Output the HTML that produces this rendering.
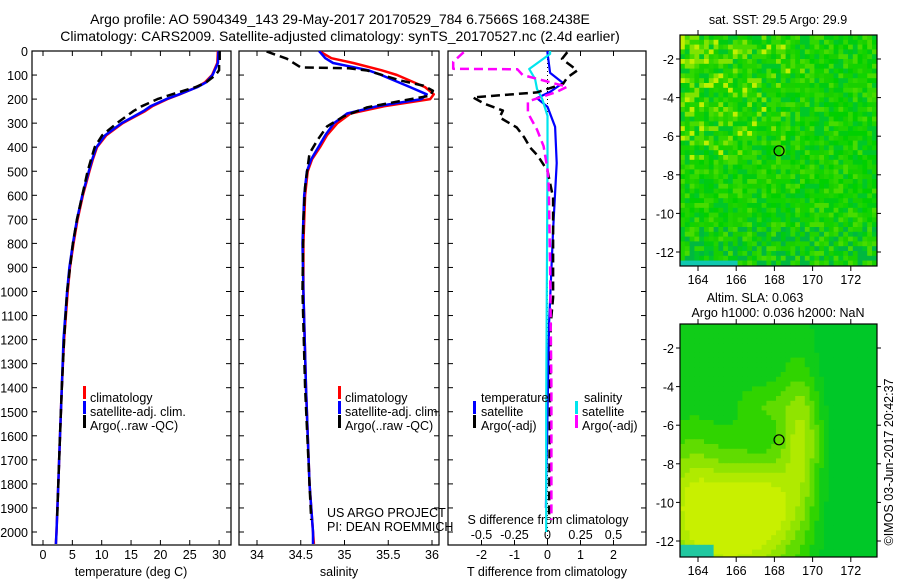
<!DOCTYPE html>
<html><head><meta charset="utf-8"><style>
html,body{margin:0;padding:0;background:#fff;}
svg{display:block;font-family:"Liberation Sans",sans-serif;}
text{fill:#000;font-size:12.5px;}
</style></head><body>
<svg id="c" width="900" height="580" viewBox="0 0 900 580">
<text x="340" y="24" text-anchor="middle" style="font-size:14px">Argo profile: AO 5904349_143 29-May-2017 20170529_784 6.7566S 168.2438E</text>
<text x="340" y="41" text-anchor="middle" style="font-size:14px">Climatology: CARS2009. Satellite-adjusted climatology: synTS_20170527.nc (2.4d earlier)</text>
<g id="g"></g>
</svg>
<script>
// ---------- data ----------
const depthTicks=[0,100,200,300,400,500,600,700,800,900,1000,1100,1200,1300,1400,1500,1600,1700,1800,1900,2000];
const tempTicks=[0,5,10,15,20,25,30];
const salTicks=[34,34.5,35,35.5,36];
const tdiffTicks=[-2,-1,0,1,2];
const sdiffTicks=[-0.5,-0.25,0,0.25,0.5];

const tClimDepth=[0,50,100,130,150,180,200,230,250,300,350,400,450,500,600,700,800,900,1000,1200,1400,1600,1800,2000,2050];
const tClim=[29.8,29.7,28.8,27.6,26.2,23.3,21.2,18.6,17.4,13.6,10.8,9.2,8.5,7.9,6.8,5.9,5.2,4.6,4.2,3.6,3.2,2.9,2.6,2.3,2.2];
const tSat=[29.9,29.8,28.9,27.8,26.3,23.2,21.0,18.3,17.1,13.4,10.6,9.1,8.4,7.8,6.7,5.8,5.1,4.5,4.1,3.5,3.2,2.9,2.6,2.3,2.2];
const tArgoDepth=[0,40,60,80,100,130,150,180,200,230,250,300,350,400,450,500,600,700,800,1000,1200,1400,1600,1800,1950];
const tArgo=[30.1,30.1,30.0,30.0,29.4,27.8,26.0,22.0,19.5,16.8,15.4,12.6,10.1,8.8,8.2,7.6,6.7,5.8,5.1,4.1,3.6,3.2,2.9,2.6,2.4];

const sClimDepth=[0,30,50,80,100,150,180,200,230,260,300,350,400,450,500,600,800,1000,1400,1800,2000,2050];
const sClim=[34.71,34.85,35.1,35.42,35.6,35.92,36.02,35.98,35.45,35.07,34.92,34.8,34.72,34.63,34.58,34.55,34.53,34.53,34.56,34.6,34.64,34.65];
const sSat=[34.71,34.78,34.87,35.27,35.42,35.75,35.94,35.88,35.37,35.03,34.88,34.78,34.7,34.62,34.57,34.54,34.52,34.53,34.56,34.6,34.64,34.64];
const sArgoDepth=[2,18,32,68,72,81,122,144,165,186,206,234,272,314,371,426,481,565,700,1000,1400,1800,1950];
const sArgo=[34.11,34.23,34.34,34.5,35.05,35.26,35.63,35.9,36.01,35.98,35.67,35.26,34.99,34.8,34.69,34.6,34.58,34.55,34.53,34.52,34.55,34.6,34.62];

const dtSatDepth=[0,8,91,133,170,196,232,315,466,744,1131,1500,1900];
const dtSat=[0,0,0.08,0.47,0.08,-0.32,0,0.23,0.28,0.17,0.05,0.0,-0.05];
const dsSatDepth=[0,12,75,117,158,200,270,466,1000,1500,2000];
const dsSat=[0.02,0.02,-0.14,-0.095,-0.08,-0.04,0,0,-0.005,-0.01,-0.01];
const dtArgoDepth=[5,33,60,81,110,137,172,193,220,248,276,318,360,401,436,498,609,886,1025,1131,1400,1700,1950];
const dtArgo=[0.6,0.44,0.7,0.9,0.6,0.47,-0.32,-2.26,-1.9,-1.35,-1.45,-0.93,-0.7,-0.53,-0.29,0,0.17,0.17,0.17,0.1,0.08,0.06,0.05];
const dsArgoDepth=[5,45,74,76,100,149,170,210,258,327,396,493,563,900,1400,1950];
const dsArgo=[-0.64,-0.72,-0.72,-0.23,-0.19,0.15,0.07,-0.15,-0.15,-0.08,-0.03,0,0.01,0.02,0.03,0.03];

const mapLonTicks=[164,166,168,170,172];
const mapLatTicks=[-2,-4,-6,-8,-10,-12];
const argoLon=[168.2438];
const argoLat=[-6.7566];

// ---------- helpers ----------
const NS="http://www.w3.org/2000/svg";
const G=document.getElementById('g');
function el(tag,attrs,parent){const e=document.createElementNS(NS,tag);for(const k in attrs)e.setAttribute(k,attrs[k]);(parent||G).appendChild(e);return e;}
const yD=d=>51+0.2405*d;
const xT=t=>43+5.87*t;
const xS=s=>257+87.5*(s-34);
const xDT=v=>547.5+33*v;
const xDS=v=>547.5+131*v;
const P1={x0:32,x1:231},P2={x0:239,x1:439},P3={x0:448,x1:646};
const TOP=51,BOT=545;

function panel(p,name){
  const r=el('rect',{x:p.x0,y:TOP,width:p.x1-p.x0,height:BOT-TOP,fill:'none',stroke:'#000','stroke-width':1.2});
  
  
  depthTicks.forEach(d=>{
    el('line',{x1:p.x0,x2:p.x0+5,y1:yD(d),y2:yD(d),stroke:'#000'});
    el('line',{x1:p.x1,x2:p.x1-5,y1:yD(d),y2:yD(d),stroke:'#000'});
  });
}
function xticks(p,ticks,fx,labels){
  ticks.forEach(v=>{
    const x=fx(v);
    el('line',{x1:x,x2:x,y1:BOT,y2:BOT-5,stroke:'#000'});
    el('line',{x1:x,x2:x,y1:TOP,y2:TOP+5,stroke:'#000'});
    if(labels){const t=el('text',{x:x,y:559,'text-anchor':'middle'});t.textContent=String(v);
      
      }
  });
}
function line(depths,vals,fx,color,name,dash,w,clip){
  const pts=depths.map((d,i)=>fx(vals[i]).toFixed(1)+','+yD(d).toFixed(1)).join(' ');
  const a={points:pts,fill:'none',stroke:color,'stroke-width':w||2.5,'stroke-linejoin':'round'};
  if(dash)a['stroke-dasharray']=dash;
  if(clip)a['clip-path']='url(#'+clip+')';
  const e=el('polyline',a);
  
  
}
function txt(x,y,s,name,anchor){const t=el('text',{x:x,y:y,'text-anchor':anchor||'start'});t.textContent=s;
  
  return t;}
function legBar(x,y,c){el('rect',{x:x,y:y-11,width:3,height:13,fill:c});}

const defs=el('defs',{});
[['cp1',P1],['cp2',P2],['cp3',P3]].forEach(([id,p])=>{const c=el('clipPath',{id:id},defs);el('rect',{x:p.x0,y:TOP,width:p.x1-p.x0,height:BOT-TOP},c);});

depthTicks.forEach(d=>{const t=el('text',{x:28,y:yD(d)+5,'text-anchor':'end'});t.textContent=d;
  
  });

// panel 1
panel(P1,'temperature-panel');
xticks(P1,tempTicks,xT,true);
txt(131,576,'temperature (deg C)','x-axis-title-temperature','middle');
line(tClimDepth,tClim,xT,'#ff0000','temp-climatology-line',null,2.5,'cp1');
line(tClimDepth,tSat,xT,'#0000ff','temp-satellite-line',null,2.5,'cp1');
line(tArgoDepth,tArgo,xT,'#000','temp-argo-line','9,5',2.5,'cp1');
legBar(83,397,'#f00');txt(90,402,'climatology','legend-climatology');
legBar(83,412,'#00f');txt(90,416,'satellite-adj. clim.','legend-satellite');
legBar(83,426,'#000');txt(90,430,'Argo(..raw -QC)','legend-argo');

// panel 2
panel(P2,'salinity-panel');
xticks(P2,salTicks,xS,true);
txt(339,576,'salinity','x-axis-title-salinity','middle');
line(sClimDepth,sClim,xS,'#ff0000','sal-climatology-line',null,2.5,'cp2');
line(sClimDepth,sSat,xS,'#0000ff','sal-satellite-line',null,2.5,'cp2');
line(sArgoDepth,sArgo,xS,'#000','sal-argo-line','9,5',2.5,'cp2');
legBar(338,397,'#f00');txt(345,402,'climatology','legend-climatology-2');
legBar(338,412,'#00f');txt(345,416,'satellite-adj. clim.','legend-satellite-2');
legBar(338,426,'#000');txt(345,430,'Argo(..raw -QC)','legend-argo-2');
txt(327,517,'US ARGO PROJECT','credit-project');
txt(327,531,'PI: DEAN ROEMMICH','credit-pi');

// panel 3
panel(P3,'difference-panel');
xticks(P3,tdiffTicks,xDT,true);
el('line',{x1:547.5,x2:547.5,y1:TOP,y2:BOT,stroke:'#000','stroke-dasharray':'1,3'});
txt(547,576,'T difference from climatology','x-axis-title-tdiff','middle');
txt(548,524,'S difference from climatology','s-diff-title','middle');
sdiffTicks.forEach((v,i)=>{txt(xDT(tdiffTicks[i]),539,String(v),'s-diff-tick-label','middle');});
line(dtSatDepth,dtSat,xDT,'#0000ff','tdiff-satellite-line',null,2.2,'cp3');
line(dsSatDepth,dsSat,xDS,'#00e5ee','sdiff-satellite-line',null,2.2,'cp3');
line(dtArgoDepth,dtArgo,xDT,'#000','tdiff-argo-line','9,5',2.5,'cp3');
line(dsArgoDepth,dsArgo,xDS,'#ff00ff','sdiff-argo-line','9,5',2.5,'cp3');
txt(481,402,'temperature','legend-temperature-header');
txt(584,402,'salinity','legend-salinity-header');
legBar(473,412,'#00f');txt(481,416,'satellite','legend-t-satellite');
legBar(473,426,'#000');txt(481,430,'Argo(-adj)','legend-t-argo');
legBar(575,412,'#00e5ee');txt(582,416,'satellite','legend-s-satellite');
legBar(575,426,'#f0f');txt(582,430,'Argo(-adj)','legend-s-argo');

// ---------- maps ----------
const MX0=680,MX1=877;
const mxL=l=>698+19.1*(l-164);
let mapId=0;
function mapFrame(y0,y1,name,texture){
  const g=el('g',{});
  
  
  const cid='mc'+(mapId++);
  const c=el('clipPath',{id:cid},defs);el('rect',{x:MX0,y:y0,width:MX1-MX0,height:y1-y0},c);
  const cells=el('g',{'clip-path':'url(#'+cid+')'},g);
  const yl=la=>y0+24+19.3*(-2-la);
  const cw=4.8,ch=4.8;
  let seed=7;const rnd=()=>{seed=(seed*16807)%2147483647;return seed/2147483647;};
  for(let y=y0;y<y1;y+=ch){for(let x=MX0;x<MX1;x+=cw){
    const lon=164+(x-698)/19.1, lat=-2-(y-(y0+24))/19.3;
    el('rect',{x:x.toFixed(1),y:y.toFixed(1),width:cw+0.4,height:ch+0.4,fill:texture(lon,lat,rnd)},cells);
  }}
  el('rect',{x:MX0,y:y0,width:MX1-MX0,height:y1-y0,fill:'none',stroke:'#000','stroke-width':1.2},g);
  mapLonTicks.forEach(l=>{const x=mxL(l);el('line',{x1:x,x2:x,y1:y1,y2:y1+5,stroke:'#000'},g);el('line',{x1:x,x2:x,y1:y0,y2:y0-5,stroke:'#000'},g);
    const t=el('text',{x:x,y:y1+18,'text-anchor':'middle'},g);t.textContent=l;});
  mapLatTicks.forEach(la=>{const y=yl(la);el('line',{x1:MX0,x2:MX0-4,y1:y,y2:y,stroke:'#000'},g);el('line',{x1:MX1,x2:MX1+4,y1:y,y2:y,stroke:'#000'},g);
    const t=el('text',{x:674,y:y+5,'text-anchor':'end'},g);t.textContent=la;});
  argoLon.forEach((lo,i)=>{const ci=el('circle',{cx:mxL(lo),cy:yl(argoLat[i]),r:5,fill:'none',stroke:'#000','stroke-width':1.2},g);
    
    });
}
const sstPal=['#00d000','#10d400','#00cc10','#20d400','#30d800','#00c828','#18d000','#48dc00'];
mapFrame(35,266,'sst-map',(lon,lat,r)=>{
  const v=r();
  if(lat<-12.2&&lon<166)return '#10c8b0';
  const yel=Math.max(0,(lat+8)/6)*Math.max(0,(170-lon)/6);
  if(v<yel*0.3)return v<yel*0.08?'#c0f000':'#80e400';
  if(lat<-10.5&&v<0.3)return '#00b840';
  return sstPal[Math.floor(v*sstPal.length)];
});
mapFrame(324,557,'sla-map',(lon,lat,r)=>{
  if(lat<-12&&lon<164.7)return '#20c8a0';
  const g=(a,b,sa,sb,w)=>w*Math.exp(-((lon-a)**2/(2*sa*sa)+(lat-b)**2/(2*sb*sb)));
  let h=0.2*Math.max(0,Math.min(1,(170.8-lon)/1.5));
  h+=g(165.5,-11,2.2,2.2,0.85)+g(169.3,-6.5,0.8,2.2,0.55)+g(167.5,-10,1.3,1.5,0.35)+g(167.3,-4.9,0.9,0.8,0.2)+g(163.5,-9,1,2,0.3);
  const cols=['#00c828','#10cc18','#30d400','#60dc00','#90e400','#b0ea00','#c8f000'];
  return cols[Math.max(0,Math.min(6,Math.floor(h*7)))];
});
txt(778,24,'sat. SST: 29.5 Argo: 29.9','sst-map-title','middle');
txt(755,302,'Altim. SLA: 0.063','sla-map-title','middle');
txt(778,317,'Argo h1000: 0.036 h2000: NaN','sla-map-subtitle','middle');
const im=txt(0,0,'©IMOS 03-Jun-2017 20:42:37','timestamp','middle');
im.setAttribute('transform','translate(893,462) rotate(-90)');
</script>
</body></html>
